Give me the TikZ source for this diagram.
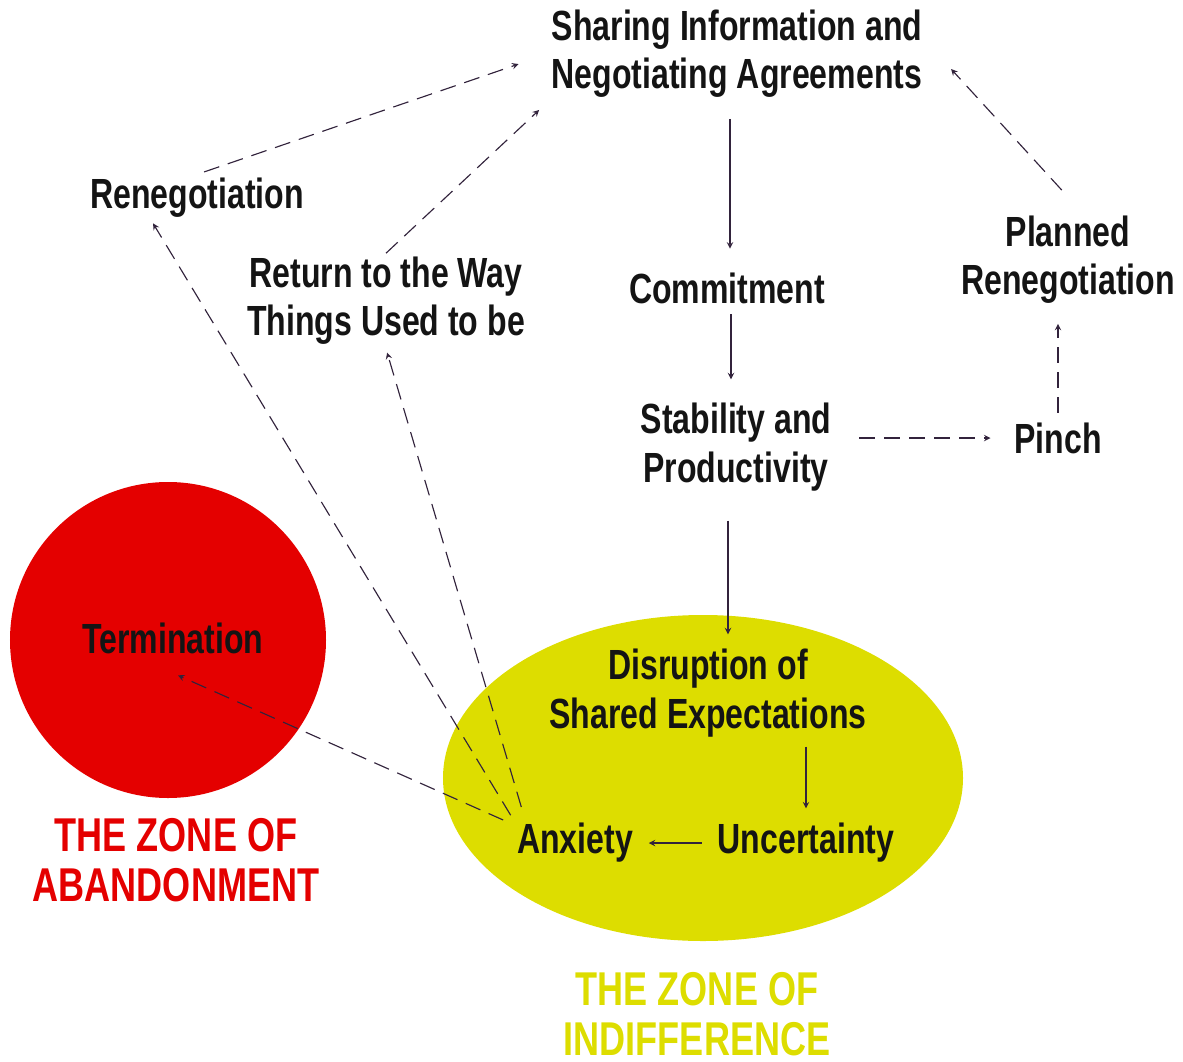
\documentclass[tikz,border=0pt]{standalone}
\usepackage{fontspec}
\newfontfamily\diagfont[FakeStretch=0.76]{Liberation Sans}
\usetikzlibrary{shapes.geometric,arrows}
\definecolor{zonered}{RGB}{228,0,0}
\definecolor{zoneyellow}{RGB}{221,221,0}
\definecolor{linkcol}{RGB}{50,35,60}
\tikzset{
  stage/.style={font=\diagfont\bfseries\fontsize{24}{27.5}\selectfont,
                align=center, text=black!92, inner sep=2pt},
  zonetxt/.style={font=\diagfont\bfseries\fontsize{27}{28.5}\selectfont,
                  align=center, inner sep=0pt},
  flow/.style={->, >=stealth, draw=linkcol, line width=0.65pt},
  flowdash/.style={flow, dash pattern=on 3.2mm off 1.8mm},
}

\begin{document}
\begin{tikzpicture}[x=0.2mm,y=-0.2mm]
    \useasboundingbox (0,0) rectangle (1183,1062);

      % the two zones
      \node[circle, fill=zonered, minimum size=63.2mm, inner sep=0pt] (abandon) at (168,640) {};
      \node[ellipse, fill=zoneyellow, minimum width=104mm, minimum height=65.2mm, inner sep=0pt] (indiff) at (703,778) {};
      \node[zonetxt, text=zonered] (zoneA) at (176,860) {THE ZONE OF\\ABANDONMENT};
      \node[zonetxt, text=zoneyellow] (zoneI) at (697,1014) {THE ZONE OF\\INDIFFERENCE};

      % stages
      \node[stage] (share)    at (737,54)  {Sharing Information and\\Negotiating Agreements};
      \node[stage] (reneg)    at (197,198) {Renegotiation};
      \node[stage] (backway)  at (386,301) {Return to the Way\\Things Used to be};
      \node[stage] (commit)   at (727,288) {Commitment};
      \node[stage] (planned)  at (1068,260) {Planned\\Renegotiation};
      \node[stage] (stable)   at (736,447) {Stability and\\Productivity};
      \node[stage] (pinch)    at (1058,438) {Pinch};
      \node[stage] (termin)   at (173,638) {Termination};
      \node[stage] (disrupt)  at (708,693) {Disruption of\\Shared Expectations};
      \node[stage] (anxiety)  at (575,843) {Anxiety};
      \node[stage] (uncert)   at (806,843) {Uncertainty};

      % main cycle
      \draw[flow, shorten <=3.4mm, shorten >=4mm] ([xshift=0.6mm]share.south -| commit) -- ([xshift=0.6mm]commit.north);
      \draw[flow, shorten <=1.4mm, shorten >=4mm] ([xshift=0.8mm]commit.south) -- ([xshift=0.8mm]commit.south |- stable.north);
      \draw[flowdash, shorten <=4.8mm, shorten >=4mm] (stable.east |- pinch) -- (pinch.west);
      \draw[flowdash, shorten <=1.2mm, shorten >=3.2mm] (pinch.north) -- (pinch.north |- planned.south);
      \draw[flowdash, shorten <=6mm] ([xshift=2.8mm]planned.north) -- ([xshift=5mm,yshift=-3mm]share.east);

      % disruption
      \draw[flow, shorten <=5.2mm, shorten >=2.2mm] ([xshift=-1.6mm]stable.south) -- ([xshift=-1.6mm]stable.south |- disrupt.north);
      \draw[flow, shorten <=1.2mm, shorten >=2.2mm] (disrupt.south -| uncert) -- (uncert.north);
      \draw[flow, shorten <=2.4mm, shorten >=2.4mm] (uncert.west) -- (anxiety.east);

      % ways out of anxiety
      \draw[flowdash, shorten <=2.2mm] ([yshift=-1mm]anxiety.north west) -- ([xshift=1mm,yshift=-3.6mm]termin.south);
      \draw[flowdash, shorten <=1mm, shorten >=0.4mm] (anxiety.north west) -- ([xshift=-9mm]reneg.south);
      \draw[flowdash, shorten <=2.6mm, shorten >=0.8mm] ([xshift=-10mm]anxiety.north) -- (backway.south);
      \draw[flowdash, shorten <=1.5mm, shorten >=6.2mm] (reneg.north) -- (share.west);
      \draw[flowdash, shorten >=2.4mm] (backway.north) -- (share.south west);

\end{tikzpicture}
\end{document}
